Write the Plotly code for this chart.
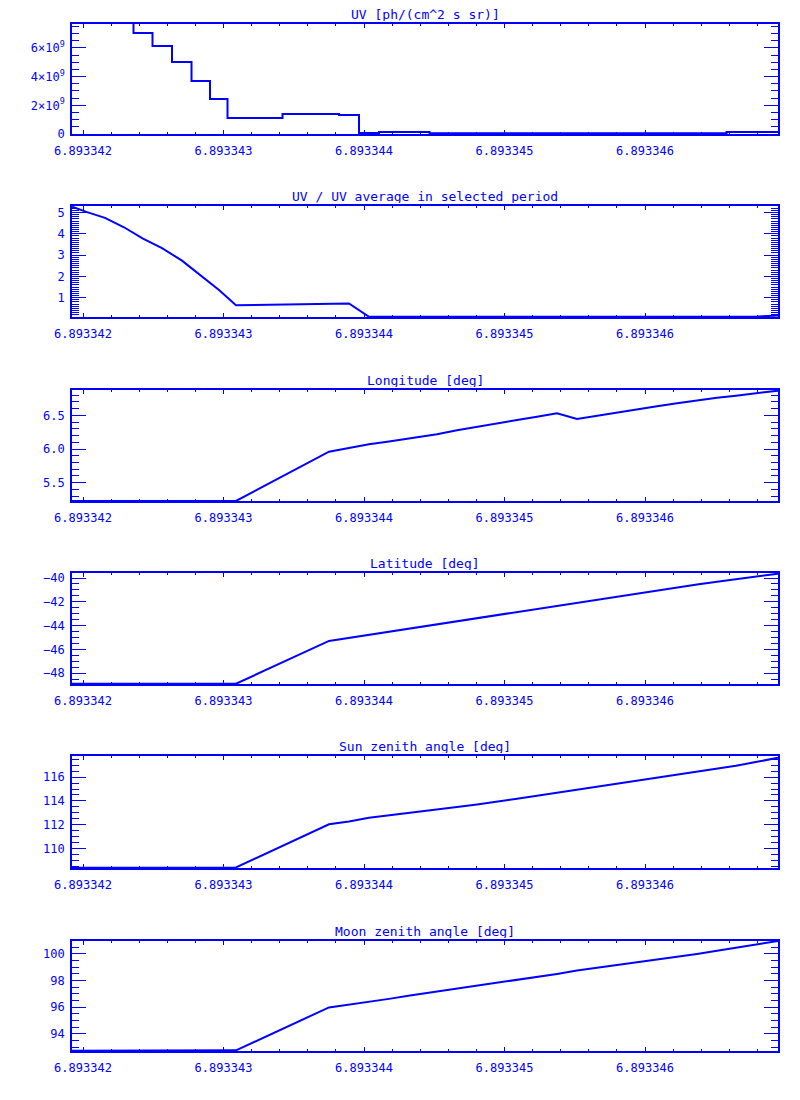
import plotly.graph_objects as go

# ---------------- data ----------------
X = [6.8933419217, 6.8933420285, 6.8933421566, 6.8933422918, 6.8933424270,
     6.8933425623, 6.8933427046, 6.8933428399, 6.8933429680, 6.8933430890,
     6.8933437509, 6.8933438932, 6.8933440356, 6.8933441779, 6.8933443274,
     6.8933444128, 6.8933445196, 6.8933446619, 6.8933448043, 6.8933449466,
     6.8933450890, 6.8933452313, 6.8933453737, 6.8933455160, 6.8933456584,
     6.8933458007, 6.8933459431, 6.8933460854, 6.8933462278, 6.8933463701,
     6.8933465125, 6.8933466477, 6.8933467972, 6.8933469466]

UV = [9.1e9, 8.7e9, 8.3e9, 7.9e9, 7.05e9,
      6.14e9, 5.02e9, 3.70e9, 2.44e9, 1.12e9,
      1.40e9, 1.33e9, 0.07e9, 0.14e9, 0.14e9,
      0.14e9, 0.05e9, 0.05e9, 0.05e9, 0.05e9,
      0.05e9, 0.05e9, 0.05e9, 0.05e9, 0.05e9,
      0.05e9, 0.05e9, 0.05e9, 0.05e9, 0.05e9,
      0.05e9, 0.14e9, 0.14e9, 0.14e9]

UV_RATIO = [5.28, 5.02, 4.75, 4.31, 3.78,
            3.33, 2.74, 2.04, 1.36, 0.64,
            0.73, 0.73, 0.10, 0.10, 0.10,
            0.10, 0.10, 0.10, 0.10, 0.10,
            0.10, 0.10, 0.10, 0.10, 0.10,
            0.10, 0.10, 0.10, 0.10, 0.10,
            0.10, 0.10, 0.11, 0.16]

LON = [5.228, 5.228, 5.228, 5.228, 5.228,
       5.228, 5.228, 5.228, 5.228, 5.228,
       5.96, 6.015, 6.07, 6.11, 6.16,
       6.183, 6.218, 6.277, 6.332, 6.381,
       6.431, 6.480, 6.530, 6.446, 6.495,
       6.540, 6.584, 6.634, 6.678, 6.723,
       6.762, 6.792, 6.832, 6.866]

LAT = [-48.88, -48.88, -48.88, -48.88, -48.88,
       -48.88, -48.88, -48.88, -48.88, -48.88,
       -45.28, -45.02, -44.76, -44.49, -44.22,
       -44.07, -43.88, -43.63, -43.38, -43.13,
       -42.86, -42.59, -42.32, -42.05, -41.78,
       -41.53, -41.28, -41.03, -40.79, -40.54,
       -40.31, -40.10, -39.87, -39.64]

SUN_ZA = [108.40, 108.40, 108.40, 108.40, 108.42,
          108.42, 108.42, 108.42, 108.42, 108.42,
          112.04, 112.27, 112.58, 112.77, 113.00,
          113.11, 113.28, 113.48, 113.70, 113.92,
          114.18, 114.43, 114.68, 114.93, 115.16,
          115.41, 115.66, 115.94, 116.20, 116.42,
          116.68, 116.95, 117.28, 117.62]

MOON_ZA = [92.72, 92.72, 92.72, 92.72, 92.72,
           92.72, 92.75, 92.75, 92.75, 92.75,
           95.97, 96.17, 96.39, 96.61, 96.86,
           96.99, 97.16, 97.39, 97.58, 97.83,
           98.03, 98.26, 98.48, 98.73, 98.93,
           99.15, 99.35, 99.55, 99.78, 99.98,
           100.22, 100.45, 100.70, 100.95]

TITLES = ["UV [ph/(cm^2 s sr)]",
          "UV / UV average in selected period",
          "Longitude [deg]",
          "Latitude [deg]",
          "Sun zenith angle [deg]",
          "Moon zenith angle [deg]"]

X_TICKS = [6.893342, 6.893343, 6.893344, 6.893345, 6.893346]
X_TICK_LABELS = ["6.893342", "6.893343", "6.893344", "6.893345", "6.893346"]

Y_TICKS = [[0, 2e9, 4e9, 6e9],
           [1, 2, 3, 4, 5],
           [5.5, 6.0, 6.5],
           [-48, -46, -44, -42, -40],
           [110, 112, 114, 116],
           [94, 96, 98, 100]]
Y_TICK_LABELS = [["0", "2×10<sup>9</sup>", "4×10<sup>9</sup>", "6×10<sup>9</sup>"],
                 ["1", "2", "3", "4", "5"],
                 ["5.5", "6.0", "6.5"],
                 ["−48", "−46", "−44", "−42", "−40"],
                 ["110", "112", "114", "116"],
                 ["94", "96", "98", "100"]]
Y_MINOR = [0.5e9, 0.1, 0.1, 0.5, 0.5, 0.5]
Y_RANGES = [[0, 7.67e9], [0.09, 5.31], [5.228, 6.876],
            [-48.90, -39.58], [108.37, 117.77], [92.70, 100.95]]

SERIES = [UV, UV_RATIO, LON, LAT, SUN_ZA, MOON_ZA]

# ---------------- layout geometry ----------------
OFF = 8                      # page body margin of the browser
W, H = 800 - OFF, 1100 - OFF
BLUE = "#0000FF"
FONT = "DejaVu Sans Mono"
panel_px = [(24, 134), (206, 317), (390, 501), (573, 684), (756, 868), (941, 1051)]
x_dom = [(72 - OFF) / W, (778 - OFF) / W]

fig = go.Figure()
layout = dict(width=W, height=H, autosize=False,
              margin=dict(l=0, r=0, t=0, b=0, pad=0),
              paper_bgcolor="white", plot_bgcolor="white",
              showlegend=False, annotations=[])

for i, (top, bot) in enumerate(panel_px):
    n = "" if i == 0 else str(i + 1)
    fig.add_trace(go.Scatter(
        x=X, y=SERIES[i], mode="lines",
        line=dict(color=BLUE, width=2, shape="hvh" if i == 0 else "linear"),
        xaxis="x" + n, yaxis="y" + n, hoverinfo="skip"))
    ydom = [1 - (bot - OFF) / H, 1 - (top - OFF) / H]
    layout["xaxis" + n] = dict(
        domain=x_dom, anchor="y" + n, range=[min(X), max(X)], automargin=False,
        tickmode="array", tickvals=X_TICKS, ticktext=X_TICK_LABELS,
        ticks="inside", ticklen=4, tickwidth=1.2, tickcolor=BLUE,
        minor=dict(tickmode="linear", tick0=X_TICKS[0], dtick=2e-7,
                   ticks="inside", ticklen=2, tickwidth=1, tickcolor=BLUE),
        showline=True, linecolor=BLUE, linewidth=1.6, mirror="allticks",
        showgrid=False, zeroline=False, ticklabelstandoff=5,
        tickfont=dict(family=FONT, size=12, color=BLUE))
    layout["yaxis" + n] = dict(
        domain=ydom, anchor="x" + n, range=Y_RANGES[i], automargin=False,
        tickmode="array", tickvals=Y_TICKS[i], ticktext=Y_TICK_LABELS[i],
        ticks="inside", ticklen=14, tickwidth=1.2, tickcolor=BLUE,
        minor=dict(tickmode="linear", tick0=0, dtick=Y_MINOR[i],
                   ticks="inside", ticklen=7, tickwidth=1, tickcolor=BLUE),
        showline=True, linecolor=BLUE, linewidth=1.6, mirror="allticks",
        showgrid=False, zeroline=False, ticklabelstandoff=3,
        tickfont=dict(family=FONT, size=12, color=BLUE))
    layout["annotations"].append(dict(
        text=TITLES[i], xref="paper", yref="paper",
        x=(x_dom[0] + x_dom[1]) / 2, y=ydom[1], xanchor="center", yanchor="bottom",
        height=14, borderpad=0, yshift=2, showarrow=False,
        font=dict(family=FONT, size=13, color=BLUE)))

fig.update_layout(**layout)
fig.write_html("out.html")
